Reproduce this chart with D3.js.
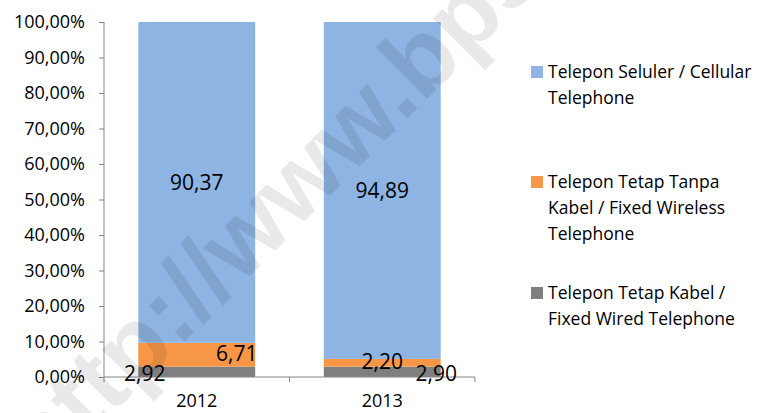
<!DOCTYPE html>
<html>
<head>
<meta charset="utf-8">
<script src="https://cdn.jsdelivr.net/npm/d3@7"></script>
<style>
  body { margin: 0; background: #fff; }
  text { font-family: "Open Sans", "Noto Sans", sans-serif; fill: #000; }
</style>
</head>
<body>
<svg id="chart" width="768" height="413"></svg>
<script>
// data
var years = ['2012', '2013'];
var series = ['wired', 'wireless', 'cellular'];
var wired = [2.92, 2.90];
var wireless = [6.71, 2.20];
var cellular = [90.37, 94.89];
var yTicks = [0, 10, 20, 30, 40, 50, 60, 70, 80, 90, 100];
var legendNames = [
    ['Telepon Seluler / Cellular', 'Telephone'],
    ['Telepon Tetap Tanpa', 'Kabel / Fixed Wireless', 'Telephone'],
    ['Telepon Tetap Kabel /', 'Fixed Wired Telephone']
];

var colors = {wired: '#7f7f7f', wireless: '#f79646', cellular: '#8eb4e3'};
var fmt = function(v){ return d3.format('.2f')(v).replace('.', ','); };

// plot area
var plot = {left: 104, right: 475, top: 22, bottom: 377};

var svg = d3.select('#chart');

var x = d3.scaleBand()
    .domain(years)
    .range([plot.left, plot.right])
    .paddingInner(0.37)
    .paddingOuter(0.185);
var y = d3.scaleLinear()
    .domain([0, 100])
    .range([plot.bottom, plot.top]);

// stack the values
var rows = years.map(function(yr, i){
    return {year: yr, wired: wired[i], wireless: wireless[i], cellular: cellular[i]};
});
var stacked = d3.stack().keys(series)(rows);

svg.append('g').selectAll('g')
    .data(stacked)
    .join('g')
    .attr('fill', function(d){ return colors[d.key]; })
    .selectAll('rect')
    .data(function(d){ return d; })
    .join('rect')
    .attr('x', function(d){ return x(d.data.year); })
    .attr('width', x.bandwidth())
    .attr('y', function(d){ return y(d[1]); })
    .attr('height', function(d){ return y(d[0]) - y(d[1]); });

// axes
var axisColor = '#868686';
var yAxis = svg.append('g')
    .attr('transform', 'translate(' + plot.left + ',0)')
    .call(d3.axisLeft(y).tickValues(yTicks).tickSize(5).tickPadding(14)
        .tickFormat(function(d){ return fmt(d) + '%'; }));
yAxis.select('.domain').attr('stroke', axisColor).attr('d', 'M0,' + plot.top + 'V' + plot.bottom);
yAxis.selectAll('.tick line').attr('stroke', axisColor);
yAxis.selectAll('.tick text')
    .style('font-family', '"Open Sans", sans-serif')
    .style('font-size', '18px')
    .attr('fill', '#000');

var xAxis = svg.append('g')
    .attr('transform', 'translate(0,' + plot.bottom + ')')
    .call(d3.axisBottom(x).tickSize(0).tickPadding(17));
xAxis.select('.domain').attr('stroke', axisColor).attr('d', 'M' + plot.left + ',0H' + plot.right);
xAxis.selectAll('.tick text')
    .style('font-family', '"Open Sans", sans-serif')
    .style('font-size', '18px')
    .attr('fill', '#000');
// category boundary ticks
var bounds = [plot.left, (plot.left + plot.right) / 2, plot.right];
xAxis.selectAll('.bound')
    .data(bounds)
    .join('line')
    .attr('class', 'bound')
    .attr('x1', function(d){ return d; })
    .attr('x2', function(d){ return d; })
    .attr('y1', 0).attr('y2', 5)
    .attr('stroke', axisColor);

// data labels (offsets from segment centre, in px)
var labelShift = {
    cellular: [[0, 0], [0, 0]],
    wireless: [[40, -1], [0, -1]],
    wired: [[-52, 2], [54, 2]]
};
stacked.forEach(function(s){
    svg.append('g').selectAll('text')
        .data(s)
        .join('text')
        .attr('x', function(d, i){ return x(d.data.year) + x.bandwidth() / 2 + labelShift[s.key][i][0]; })
        .attr('y', function(d, i){ return y((d[0] + d[1]) / 2) + labelShift[s.key][i][1]; })
        .attr('dy', '0.35em')
        .attr('text-anchor', 'middle')
        .style('font-size', '21px')
        .text(function(d){ return fmt(d[1] - d[0]); });
});

// legend
var legendTop = [72, 182, 293];
var legendKeys = ['cellular', 'wireless', 'wired'];
var legend = svg.append('g');
legendKeys.forEach(function(k, i){
    legend.append('rect')
        .attr('x', 531).attr('y', legendTop[i] - 6)
        .attr('width', 12).attr('height', 12)
        .attr('fill', colors[k]);
    legend.append('g').selectAll('text')
        .data(legendNames[i])
        .join('text')
        .attr('x', 548)
        .attr('y', function(d, j){ return legendTop[i] + j * 26; })
        .attr('dy', '0.35em')
        .style('font-size', '17.5px')
        .text(function(d){ return d; });
});

// watermark
svg.append('text')
    .attr('transform', 'translate(44,482) rotate(-45)')
    .style('font-family', '"Liberation Sans", Arial, sans-serif')
    .style('font-weight', 'bold')
    .style('font-size', '100px')
    .style('fill', '#000')
    .style('fill-opacity', 0.085)
    .text('http://www.bps.go.id');
</script>
</body>
</html>
